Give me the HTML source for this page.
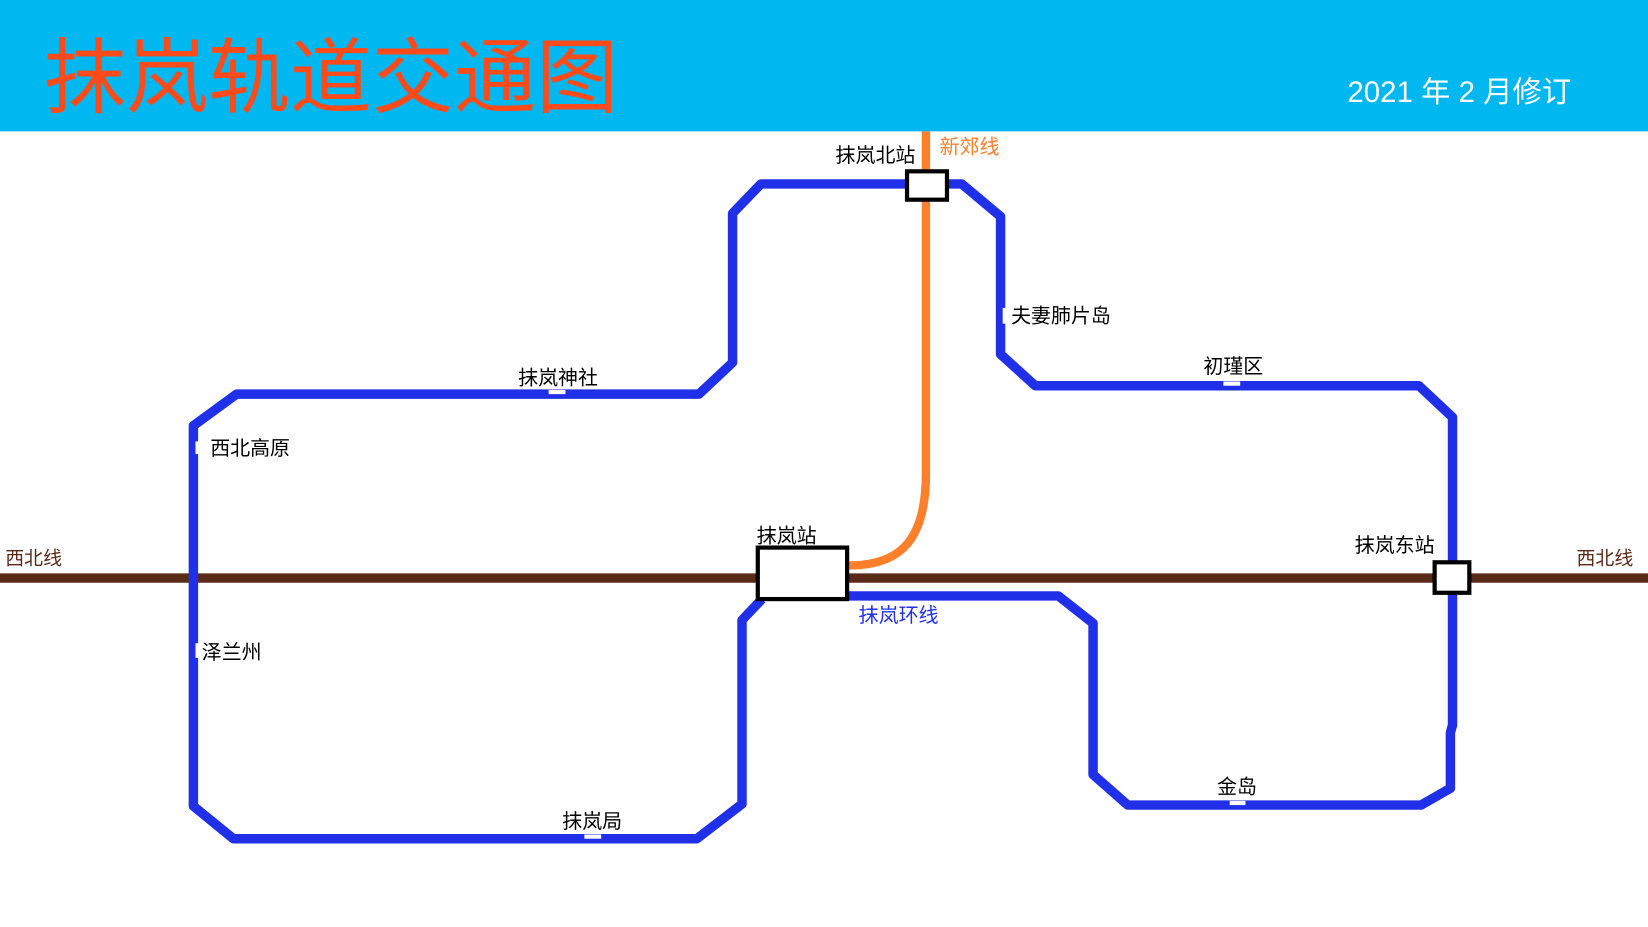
<!DOCTYPE html>
<html><head><meta charset="utf-8"><style>
html,body{margin:0;padding:0;background:#fff;}
svg{display:block;}
text{font-family:"Liberation Sans","Noto Sans CJK SC",sans-serif;}
</style></head><body>
<svg width="1648" height="927" viewBox="0 0 1568 882" xmlns="http://www.w3.org/2000/svg">
<rect x="0" y="0" width="1568" height="125" fill="#00B7EF"/>
<text x="42" y="101" font-size="78" fill="#FF4A1A">抹岚轨道交通图</text>
<text x="1282" y="97" font-size="28" fill="#fff">2021 年 2 月修订</text>
<line x1="0" y1="550" x2="1568" y2="550" stroke="#5A2A18" stroke-width="9"/>
<text x="5" y="537" font-size="18" fill="#5A2A18">西北线</text>
<text x="1500" y="537" font-size="18" fill="#5A2A18">西北线</text>
<path d="M881,125 V450 C881,510 860,538 808,538" fill="none" stroke="#FF7F2A" stroke-width="8"/>
<path d="M725,570 L706,590 V765 L663,798 H222 L184,767 V405 L225,375 H665 L697,345 V203 L724,175 H915 L952,206 V337 L985,367 H1350 L1382,397 V690 L1380,697 V750 L1352,766 H1073 L1040,737 V593 L1007,567 H806" fill="none" stroke="#2030E8" stroke-width="9" stroke-linejoin="round"/>
<g fill="#fff">
<rect x="186" y="420" width="5" height="12"/>
<rect x="186" y="612" width="5" height="14"/>
<rect x="954" y="293" width="5" height="15"/>
<rect x="1164" y="363" width="16" height="4"/>
<rect x="522" y="371" width="16" height="4"/>
<rect x="556" y="794" width="16" height="4"/>
<rect x="1170" y="762" width="15" height="4"/>
</g>
<g fill="#fff" stroke="#000" stroke-width="4">
<rect x="863" y="163" width="38" height="27"/>
<rect x="721" y="521" width="85" height="49"/>
<rect x="1365" y="535" width="33" height="29"/>
</g>
<g font-size="19" fill="#000">
<text x="795" y="154">抹岚北站</text>
<text x="962" y="307">夫妻肺片岛</text>
<text x="1145" y="355">初瑾区</text>
<text x="493" y="366">抹岚神社</text>
<text x="200" y="433">西北高原</text>
<text x="720" y="516">抹岚站</text>
<text x="1289" y="525">抹岚东站</text>
<text x="192" y="627">泽兰州</text>
<text x="535" y="788">抹岚局</text>
<text x="1158" y="755">金岛</text>
</g>
<text x="894" y="146" font-size="19" fill="#FF7F2A">新郊线</text>
<text x="817" y="592" font-size="19" fill="#2030E8">抹岚环线</text>
</svg>
</body></html>
